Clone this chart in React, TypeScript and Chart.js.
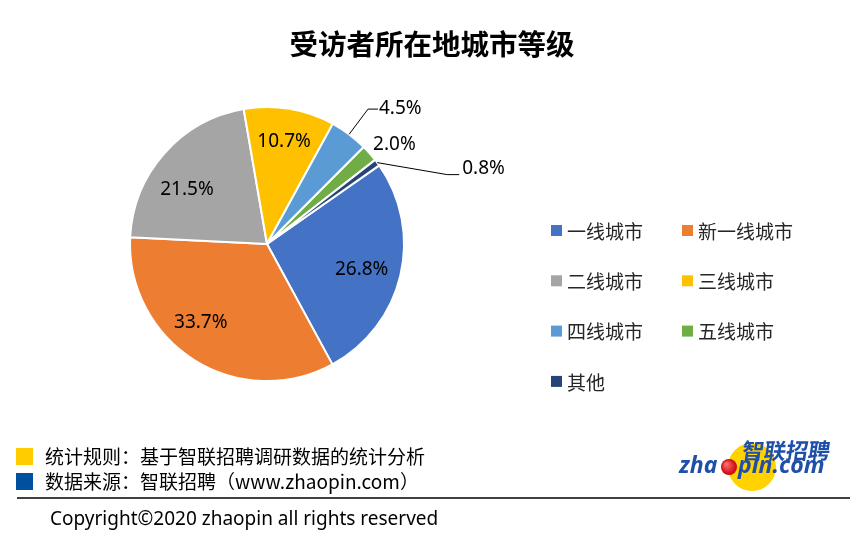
import React, { useEffect, useRef } from 'react';
import { Chart, registerables } from 'chart.js';
Chart.register(...registerables);

const categories = ['一线城市', '新一线城市', '二线城市', '三线城市', '四线城市', '五线城市', '其他'];
const shares = [26.8, 33.7, 21.5, 10.7, 4.5, 2.0, 0.8];
const sliceColors = ['#4472C4', '#ED7D31', '#A5A5A5', '#FFC000', '#5B9BD5', '#70AD47', '#264478'];
const chartTitle = '受访者所在地城市等级';
const footnotes = ['统计规则：基于智联招聘调研数据的统计分析', '数据来源：智联招聘（www.zhaopin.com）'];
const footnoteColors = ['#FFCC00', '#0050A0'];
const copyright = 'Copyright©2020 zhaopin all rights reserved';

const W = 865;
const H = 537;
const LATIN = '"Noto Sans", "Noto Sans CJK SC", sans-serif';
const CJK = '"Noto Sans CJK SC", "Noto Sans", sans-serif';

const deg = Math.PI / 180;

// label placement rules per slice (layout only)
const labelRules: any[] = [
  { kind: 'in', f: 0.716, da: 2 },
  { kind: 'in', f: 0.75, da: 8 },
  { kind: 'in', f: 0.705, da: -7.5 },
  { kind: 'in', f: 0.76, da: 0 },
  { kind: 'elbow', f: 1.23 },
  { kind: 'free', f: 1.18, da: 3.5 },
  { kind: 'long', dx: 70, dy: 12 },
];

const decor = {
  id: 'decor',
  afterDraw(chart: any) {
    const ctx: CanvasRenderingContext2D = chart.ctx;
    const meta = chart.getDatasetMeta(0);
    ctx.save();

    // title
    ctx.fillStyle = '#000';
    ctx.font = `bold 28.5px ${CJK}`;
    ctx.textAlign = 'center';
    ctx.textBaseline = 'middle';
    ctx.fillText(chartTitle, 432, 44);

    // slice labels
    ctx.font = `19px ${LATIN}`;
    ctx.strokeStyle = '#000';
    ctx.lineWidth = 1;
    meta.data.forEach((arc: any, i: number) => {
      const p = arc.getProps(['x', 'y', 'startAngle', 'endAngle', 'outerRadius'], true);
      const mid = (p.startAngle + p.endAngle) / 2;
      const r = p.outerRadius;
      const txt = shares[i].toFixed(1) + '%';
      const rule = labelRules[i];
      ctx.fillStyle = '#000';
      if (rule.kind === 'in' || rule.kind === 'free') {
        const a = mid + rule.da * deg;
        const tx = p.x + Math.cos(a) * r * rule.f;
        const ty = p.y + Math.sin(a) * r * rule.f;
        ctx.textAlign = 'center';
        ctx.textBaseline = 'middle';
        ctx.fillText(txt, tx, ty);
      } else if (rule.kind === 'elbow') {
        const ex = p.x + Math.cos(mid) * r;
        const ey = p.y + Math.sin(mid) * r;
        const bx = p.x + Math.cos(mid) * r * rule.f;
        const by = p.y + Math.sin(mid) * r * rule.f;
        ctx.beginPath();
        ctx.moveTo(ex, ey);
        ctx.lineTo(bx, by);
        ctx.lineTo(bx + 10, by);
        ctx.stroke();
        ctx.textAlign = 'left';
        ctx.textBaseline = 'middle';
        ctx.fillText(txt, bx + 11, by - 1);
      } else {
        const ex = p.x + Math.cos(mid) * r;
        const ey = p.y + Math.sin(mid) * r;
        const bx = ex + rule.dx;
        const by = ey + rule.dy;
        ctx.beginPath();
        ctx.moveTo(ex, ey);
        ctx.lineTo(bx, by);
        ctx.lineTo(bx + 12, by);
        ctx.stroke();
        ctx.textAlign = 'left';
        ctx.textBaseline = 'middle';
        ctx.fillText(txt, bx + 15, by - 6);
      }
    });

    // legend
    ctx.font = `19px ${CJK}`;
    ctx.textAlign = 'left';
    ctx.textBaseline = 'middle';
    categories.forEach((c, i) => {
      const col = i % 2;
      const row = Math.floor(i / 2);
      const sx = col === 0 ? 551 : 682;
      const cy = 230.5 + row * 50.3;
      ctx.fillStyle = sliceColors[i];
      ctx.fillRect(sx, cy - 5.5, 11, 11);
      ctx.fillStyle = '#262626';
      ctx.fillText(c, sx + 16, cy + 1);
    });

    // footnotes
    footnotes.forEach((t, i) => {
      const cy = 457 + i * 25;
      ctx.fillStyle = footnoteColors[i];
      ctx.fillRect(16, cy - 9, 17, 17);
      ctx.fillStyle = '#000';
      ctx.font = `19px ${CJK}`;
      ctx.fillText(t, 45, cy);
    });

    // separator
    ctx.strokeStyle = '#000';
    ctx.lineWidth = 1.5;
    ctx.beginPath();
    ctx.moveTo(17, 498);
    ctx.lineTo(850, 498);
    ctx.stroke();

    // copyright
    ctx.fillStyle = '#000';
    ctx.font = `19px ${LATIN}`;
    ctx.fillText(copyright, 50, 520);

    // logo
    ctx.fillStyle = '#FFD200';
    ctx.beginPath();
    ctx.arc(752, 467, 24, 0, Math.PI * 2);
    ctx.fill();
    const grad = ctx.createRadialGradient(726, 464, 1, 729, 467, 8);
    grad.addColorStop(0, '#ff6a6a');
    grad.addColorStop(1, '#c8000a');
    ctx.fillStyle = grad;
    ctx.beginPath();
    ctx.arc(729, 467, 8, 0, Math.PI * 2);
    ctx.fill();
    ctx.fillStyle = '#1F4FA8';
    ctx.font = `italic bold 23px ${LATIN}`;
    ctx.textBaseline = 'alphabetic';
    ctx.textAlign = 'left';
    ctx.fillText('zha', 679, 473);
    ctx.fillText('pin.com', 738, 473);
    ctx.font = `bold 22px ${CJK}`;
    ctx.save();
    ctx.translate(741, 459);
    ctx.transform(1, 0, -0.15, 1, 0, 0);
    ctx.fillText('智联招聘', 0, 0);
    ctx.restore();

    ctx.restore();
  },
};

export default function App() {
  const ref = useRef<HTMLCanvasElement | null>(null);
  useEffect(() => {
    if (!ref.current) return;
    const chart = new Chart(ref.current, {
      type: 'pie',
      data: {
        labels: categories,
        datasets: [
          {
            data: shares,
            backgroundColor: sliceColors,
            borderColor: '#FFFFFF',
            borderWidth: 2,
          },
        ],
      },
      options: {
        responsive: false,
        animation: false,
        rotation: 55,
        layout: { padding: { left: 129, right: 460, top: 106, bottom: 155 } },
        plugins: {
          legend: { display: false },
          tooltip: { enabled: false },
          title: { display: false },
        },
      },
      plugins: [decor],
    });
    return () => chart.destroy();
  }, []);
  return (
    <div style={{ position: 'absolute', left: 0, top: 0, width: W, height: H, background: '#fff' }}>
      <canvas ref={ref} width={W} height={H} style={{ width: W, height: H, display: 'block' }} />
    </div>
  );
}
